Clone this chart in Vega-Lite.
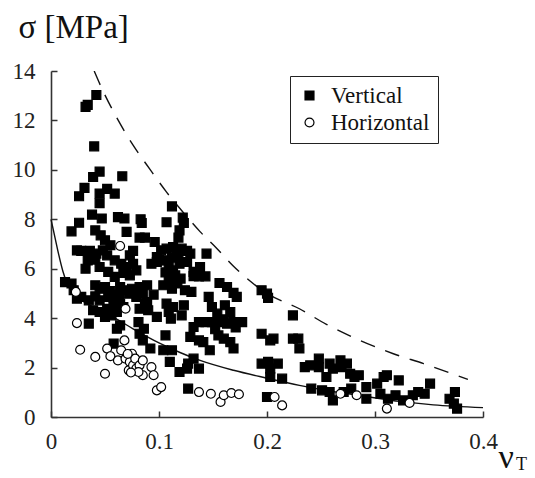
{
  "$schema": "https://vega.github.io/schema/vega-lite/v6.json",
  "width": 432,
  "height": 346,
  "autosize": {"type": "none"},
  "padding": {"left": 51, "top": 71, "right": 52, "bottom": 61},
  "background": "white",
  "config": {"view": {"stroke": null}, "font": "Liberation Serif"},
  "title": {"text": "T", "orient": "top", "anchor": "start", "frame": "group", "offset": 0, "dx": 465, "dy": 477, "baseline": "alphabetic", "fontSize": 18, "fontWeight": "normal", "color": "#111", "font": "Liberation Serif"},
  "datasets": {
    "solid": [
      {"x": 0, "y": 8.0}, {"x": 0.004, "y": 7.2}, {"x": 0.007, "y": 6.6}, {"x": 0.011, "y": 5.9}, {"x": 0.015, "y": 5.4}, {"x": 0.02, "y": 5.05}, {"x": 0.03, "y": 4.68}, {"x": 0.045, "y": 4.32}, {"x": 0.06, "y": 3.98}, {"x": 0.076, "y": 3.57}, {"x": 0.1, "y": 3.0}, {"x": 0.12, "y": 2.6}, {"x": 0.138, "y": 2.29}, {"x": 0.169, "y": 1.89}, {"x": 0.2, "y": 1.57}, {"x": 0.23, "y": 1.28}, {"x": 0.261, "y": 1.03}, {"x": 0.292, "y": 0.83}, {"x": 0.323, "y": 0.63}, {"x": 0.354, "y": 0.49}, {"x": 0.4, "y": 0.38}
    ],
    "dashed": [
      {"x": 0.040, "y": 14.0}, {"x": 0.047, "y": 13.3}, {"x": 0.061, "y": 12.1}, {"x": 0.076, "y": 11.0}, {"x": 0.092, "y": 10.0}, {"x": 0.107, "y": 9.1}, {"x": 0.123, "y": 8.25}, {"x": 0.138, "y": 7.5}, {"x": 0.154, "y": 6.8}, {"x": 0.169, "y": 6.1}, {"x": 0.2, "y": 5.0}, {"x": 0.230, "y": 4.38}, {"x": 0.255, "y": 3.75}, {"x": 0.286, "y": 3.10}, {"x": 0.317, "y": 2.56}, {"x": 0.345, "y": 2.16}, {"x": 0.386, "y": 1.52}
    ],
    "points": [
      {"x": 0.034, "y": 12.63, "s": "Vertical"}, {"x": 0.032, "y": 12.55, "s": "Vertical"}, {"x": 0.042, "y": 13.03, "s": "Vertical"}, {"x": 0.040, "y": 10.95, "s": "Vertical"}, {"x": 0.045, "y": 9.93, "s": "Vertical"}, {"x": 0.039, "y": 9.71, "s": "Vertical"}, {"x": 0.066, "y": 9.74, "s": "Vertical"}, {"x": 0.031, "y": 9.27, "s": "Vertical"}, {"x": 0.052, "y": 9.23, "s": "Vertical"}, {"x": 0.026, "y": 8.93, "s": "Vertical"}, {"x": 0.045, "y": 9.04, "s": "Vertical"}, {"x": 0.059, "y": 9.04, "s": "Vertical"}, {"x": 0.045, "y": 8.65, "s": "Vertical"}, {"x": 0.112, "y": 8.52, "s": "Vertical"}, {"x": 0.038, "y": 8.19, "s": "Vertical"}, {"x": 0.026, "y": 7.86, "s": "Vertical"}, {"x": 0.019, "y": 7.51, "s": "Vertical"}, {"x": 0.047, "y": 8.03, "s": "Vertical"}, {"x": 0.062, "y": 8.09, "s": "Vertical"}, {"x": 0.068, "y": 8.03, "s": "Vertical"}, {"x": 0.083, "y": 8.0, "s": "Vertical"}, {"x": 0.084, "y": 7.85, "s": "Vertical"}, {"x": 0.107, "y": 7.88, "s": "Vertical"}, {"x": 0.122, "y": 8.07, "s": "Vertical"}, {"x": 0.123, "y": 7.85, "s": "Vertical"}, {"x": 0.119, "y": 7.55, "s": "Vertical"}, {"x": 0.118, "y": 7.26, "s": "Vertical"}, {"x": 0.041, "y": 7.55, "s": "Vertical"}, {"x": 0.070, "y": 7.49, "s": "Vertical"}, {"x": 0.046, "y": 7.35, "s": "Vertical"}, {"x": 0.050, "y": 7.15, "s": "Vertical"}, {"x": 0.055, "y": 6.95, "s": "Vertical"}, {"x": 0.082, "y": 7.26, "s": "Vertical"}, {"x": 0.087, "y": 7.26, "s": "Vertical"}, {"x": 0.096, "y": 7.08, "s": "Vertical"}, {"x": 0.024, "y": 6.74, "s": "Vertical"}, {"x": 0.028, "y": 6.72, "s": "Vertical"}, {"x": 0.036, "y": 6.72, "s": "Vertical"}, {"x": 0.042, "y": 6.61, "s": "Vertical"}, {"x": 0.048, "y": 6.74, "s": "Vertical"}, {"x": 0.052, "y": 6.54, "s": "Vertical"}, {"x": 0.076, "y": 6.72, "s": "Vertical"}, {"x": 0.073, "y": 6.54, "s": "Vertical"}, {"x": 0.102, "y": 6.74, "s": "Vertical"}, {"x": 0.107, "y": 6.81, "s": "Vertical"}, {"x": 0.113, "y": 6.88, "s": "Vertical"}, {"x": 0.116, "y": 6.77, "s": "Vertical"}, {"x": 0.121, "y": 6.81, "s": "Vertical"}, {"x": 0.126, "y": 6.72, "s": "Vertical"}, {"x": 0.129, "y": 6.61, "s": "Vertical"}, {"x": 0.098, "y": 6.47, "s": "Vertical"}, {"x": 0.144, "y": 6.61, "s": "Vertical"}, {"x": 0.034, "y": 6.34, "s": "Vertical"}, {"x": 0.041, "y": 6.37, "s": "Vertical"}, {"x": 0.045, "y": 6.07, "s": "Vertical"}, {"x": 0.032, "y": 6.0, "s": "Vertical"}, {"x": 0.059, "y": 6.34, "s": "Vertical"}, {"x": 0.065, "y": 6.20, "s": "Vertical"}, {"x": 0.070, "y": 6.07, "s": "Vertical"}, {"x": 0.076, "y": 6.20, "s": "Vertical"}, {"x": 0.079, "y": 5.93, "s": "Vertical"}, {"x": 0.093, "y": 6.20, "s": "Vertical"}, {"x": 0.098, "y": 6.27, "s": "Vertical"}, {"x": 0.104, "y": 6.34, "s": "Vertical"}, {"x": 0.109, "y": 6.07, "s": "Vertical"}, {"x": 0.113, "y": 5.93, "s": "Vertical"}, {"x": 0.119, "y": 6.20, "s": "Vertical"}, {"x": 0.126, "y": 6.27, "s": "Vertical"}, {"x": 0.132, "y": 5.87, "s": "Vertical"}, {"x": 0.138, "y": 6.07, "s": "Vertical"}, {"x": 0.143, "y": 5.69, "s": "Vertical"}, {"x": 0.137, "y": 5.69, "s": "Vertical"}, {"x": 0.053, "y": 5.87, "s": "Vertical"}, {"x": 0.059, "y": 5.67, "s": "Vertical"}, {"x": 0.067, "y": 5.83, "s": "Vertical"}, {"x": 0.073, "y": 5.73, "s": "Vertical"}, {"x": 0.013, "y": 5.46, "s": "Vertical"}, {"x": 0.019, "y": 5.40, "s": "Vertical"}, {"x": 0.021, "y": 5.13, "s": "Vertical"}, {"x": 0.041, "y": 5.33, "s": "Vertical"}, {"x": 0.045, "y": 5.19, "s": "Vertical"}, {"x": 0.050, "y": 5.26, "s": "Vertical"}, {"x": 0.055, "y": 5.10, "s": "Vertical"}, {"x": 0.064, "y": 5.26, "s": "Vertical"}, {"x": 0.069, "y": 5.13, "s": "Vertical"}, {"x": 0.075, "y": 5.19, "s": "Vertical"}, {"x": 0.082, "y": 5.26, "s": "Vertical"}, {"x": 0.089, "y": 5.33, "s": "Vertical"}, {"x": 0.104, "y": 5.33, "s": "Vertical"}, {"x": 0.109, "y": 5.53, "s": "Vertical"}, {"x": 0.112, "y": 5.19, "s": "Vertical"}, {"x": 0.115, "y": 5.73, "s": "Vertical"}, {"x": 0.120, "y": 5.60, "s": "Vertical"}, {"x": 0.124, "y": 5.13, "s": "Vertical"}, {"x": 0.130, "y": 5.06, "s": "Vertical"}, {"x": 0.156, "y": 5.42, "s": "Vertical"}, {"x": 0.163, "y": 5.26, "s": "Vertical"}, {"x": 0.169, "y": 5.02, "s": "Vertical"}, {"x": 0.172, "y": 4.86, "s": "Vertical"}, {"x": 0.195, "y": 5.13, "s": "Vertical"}, {"x": 0.200, "y": 4.99, "s": "Vertical"}, {"x": 0.201, "y": 4.82, "s": "Vertical"}, {"x": 0.024, "y": 4.79, "s": "Vertical"}, {"x": 0.028, "y": 4.86, "s": "Vertical"}, {"x": 0.035, "y": 4.72, "s": "Vertical"}, {"x": 0.041, "y": 4.88, "s": "Vertical"}, {"x": 0.045, "y": 4.72, "s": "Vertical"}, {"x": 0.053, "y": 4.86, "s": "Vertical"}, {"x": 0.058, "y": 4.79, "s": "Vertical"}, {"x": 0.062, "y": 4.72, "s": "Vertical"}, {"x": 0.072, "y": 4.99, "s": "Vertical"}, {"x": 0.079, "y": 4.86, "s": "Vertical"}, {"x": 0.085, "y": 4.99, "s": "Vertical"}, {"x": 0.089, "y": 4.65, "s": "Vertical"}, {"x": 0.039, "y": 4.32, "s": "Vertical"}, {"x": 0.045, "y": 4.25, "s": "Vertical"}, {"x": 0.052, "y": 4.38, "s": "Vertical"}, {"x": 0.058, "y": 4.45, "s": "Vertical"}, {"x": 0.064, "y": 4.59, "s": "Vertical"}, {"x": 0.050, "y": 4.05, "s": "Vertical"}, {"x": 0.056, "y": 4.11, "s": "Vertical"}, {"x": 0.061, "y": 4.25, "s": "Vertical"}, {"x": 0.082, "y": 4.38, "s": "Vertical"}, {"x": 0.090, "y": 4.32, "s": "Vertical"}, {"x": 0.098, "y": 4.05, "s": "Vertical"}, {"x": 0.107, "y": 4.59, "s": "Vertical"}, {"x": 0.109, "y": 4.25, "s": "Vertical"}, {"x": 0.113, "y": 4.45, "s": "Vertical"}, {"x": 0.123, "y": 4.52, "s": "Vertical"}, {"x": 0.121, "y": 4.11, "s": "Vertical"}, {"x": 0.146, "y": 4.86, "s": "Vertical"}, {"x": 0.149, "y": 4.45, "s": "Vertical"}, {"x": 0.154, "y": 4.18, "s": "Vertical"}, {"x": 0.161, "y": 4.52, "s": "Vertical"}, {"x": 0.166, "y": 4.25, "s": "Vertical"}, {"x": 0.224, "y": 4.11, "s": "Vertical"}, {"x": 0.035, "y": 3.78, "s": "Vertical"}, {"x": 0.081, "y": 3.84, "s": "Vertical"}, {"x": 0.086, "y": 3.57, "s": "Vertical"}, {"x": 0.082, "y": 3.37, "s": "Vertical"}, {"x": 0.061, "y": 3.57, "s": "Vertical"}, {"x": 0.064, "y": 3.71, "s": "Vertical"}, {"x": 0.111, "y": 3.98, "s": "Vertical"}, {"x": 0.132, "y": 3.64, "s": "Vertical"}, {"x": 0.137, "y": 3.84, "s": "Vertical"}, {"x": 0.143, "y": 3.84, "s": "Vertical"}, {"x": 0.149, "y": 3.84, "s": "Vertical"}, {"x": 0.155, "y": 3.84, "s": "Vertical"}, {"x": 0.163, "y": 3.78, "s": "Vertical"}, {"x": 0.169, "y": 3.84, "s": "Vertical"}, {"x": 0.177, "y": 3.84, "s": "Vertical"}, {"x": 0.129, "y": 3.24, "s": "Vertical"}, {"x": 0.137, "y": 3.10, "s": "Vertical"}, {"x": 0.141, "y": 3.03, "s": "Vertical"}, {"x": 0.155, "y": 3.30, "s": "Vertical"}, {"x": 0.160, "y": 3.17, "s": "Vertical"}, {"x": 0.166, "y": 3.03, "s": "Vertical"}, {"x": 0.106, "y": 3.30, "s": "Vertical"}, {"x": 0.195, "y": 3.37, "s": "Vertical"}, {"x": 0.203, "y": 3.10, "s": "Vertical"}, {"x": 0.206, "y": 3.17, "s": "Vertical"}, {"x": 0.224, "y": 3.17, "s": "Vertical"}, {"x": 0.229, "y": 3.17, "s": "Vertical"}, {"x": 0.058, "y": 2.97, "s": "Vertical"}, {"x": 0.092, "y": 2.77, "s": "Vertical"}, {"x": 0.104, "y": 2.70, "s": "Vertical"}, {"x": 0.112, "y": 2.70, "s": "Vertical"}, {"x": 0.147, "y": 2.70, "s": "Vertical"}, {"x": 0.169, "y": 2.77, "s": "Vertical"}, {"x": 0.230, "y": 2.77, "s": "Vertical"}, {"x": 0.132, "y": 2.36, "s": "Vertical"}, {"x": 0.127, "y": 2.16, "s": "Vertical"}, {"x": 0.110, "y": 2.23, "s": "Vertical"}, {"x": 0.137, "y": 1.96, "s": "Vertical"}, {"x": 0.119, "y": 1.82, "s": "Vertical"}, {"x": 0.126, "y": 1.96, "s": "Vertical"}, {"x": 0.195, "y": 2.16, "s": "Vertical"}, {"x": 0.201, "y": 2.23, "s": "Vertical"}, {"x": 0.203, "y": 1.96, "s": "Vertical"}, {"x": 0.203, "y": 1.62, "s": "Vertical"}, {"x": 0.214, "y": 1.55, "s": "Vertical"}, {"x": 0.210, "y": 2.16, "s": "Vertical"}, {"x": 0.235, "y": 2.02, "s": "Vertical"}, {"x": 0.240, "y": 2.09, "s": "Vertical"}, {"x": 0.248, "y": 2.36, "s": "Vertical"}, {"x": 0.248, "y": 2.02, "s": "Vertical"}, {"x": 0.255, "y": 1.62, "s": "Vertical"}, {"x": 0.258, "y": 2.16, "s": "Vertical"}, {"x": 0.268, "y": 2.29, "s": "Vertical"}, {"x": 0.274, "y": 2.16, "s": "Vertical"}, {"x": 0.261, "y": 1.96, "s": "Vertical"}, {"x": 0.269, "y": 2.02, "s": "Vertical"}, {"x": 0.277, "y": 1.75, "s": "Vertical"}, {"x": 0.281, "y": 1.62, "s": "Vertical"}, {"x": 0.285, "y": 1.69, "s": "Vertical"}, {"x": 0.241, "y": 1.15, "s": "Vertical"}, {"x": 0.251, "y": 1.08, "s": "Vertical"}, {"x": 0.258, "y": 1.01, "s": "Vertical"}, {"x": 0.261, "y": 0.67, "s": "Vertical"}, {"x": 0.271, "y": 1.01, "s": "Vertical"}, {"x": 0.278, "y": 1.15, "s": "Vertical"}, {"x": 0.292, "y": 1.21, "s": "Vertical"}, {"x": 0.292, "y": 0.74, "s": "Vertical"}, {"x": 0.302, "y": 1.35, "s": "Vertical"}, {"x": 0.308, "y": 1.62, "s": "Vertical"}, {"x": 0.311, "y": 1.69, "s": "Vertical"}, {"x": 0.305, "y": 0.94, "s": "Vertical"}, {"x": 0.312, "y": 0.74, "s": "Vertical"}, {"x": 0.322, "y": 1.48, "s": "Vertical"}, {"x": 0.319, "y": 0.88, "s": "Vertical"}, {"x": 0.326, "y": 0.67, "s": "Vertical"}, {"x": 0.335, "y": 0.88, "s": "Vertical"}, {"x": 0.340, "y": 1.01, "s": "Vertical"}, {"x": 0.346, "y": 0.94, "s": "Vertical"}, {"x": 0.351, "y": 1.35, "s": "Vertical"}, {"x": 0.369, "y": 0.74, "s": "Vertical"}, {"x": 0.374, "y": 1.01, "s": "Vertical"}, {"x": 0.373, "y": 0.54, "s": "Vertical"}, {"x": 0.376, "y": 0.34, "s": "Vertical"}, {"x": 0.127, "y": 1.15, "s": "Vertical"}, {"x": 0.200, "y": 0.81, "s": "Vertical"}, {"x": 0.100, "y": 6.35, "s": "Vertical"}, {"x": 0.118, "y": 6.50, "s": "Vertical"}, {"x": 0.112, "y": 6.45, "s": "Vertical"}, {"x": 0.106, "y": 5.85, "s": "Vertical"}, {"x": 0.117, "y": 5.40, "s": "Vertical"}, {"x": 0.063, "y": 4.95, "s": "Vertical"}, {"x": 0.067, "y": 4.45, "s": "Vertical"}, {"x": 0.160, "y": 3.95, "s": "Vertical"}, {"x": 0.152, "y": 3.55, "s": "Vertical"}, {"x": 0.171, "y": 3.62, "s": "Vertical"}, {"x": 0.095, "y": 4.95, "s": "Vertical"}, {"x": 0.087, "y": 4.60, "s": "Vertical"}, {"x": 0.132, "y": 5.70, "s": "Vertical"}, {"x": 0.085, "y": 3.10, "s": "Vertical"},
      {"x": 0.023, "y": 5.06, "s": "Horizontal"}, {"x": 0.024, "y": 3.80, "s": "Horizontal"}, {"x": 0.027, "y": 2.72, "s": "Horizontal"}, {"x": 0.041, "y": 2.43, "s": "Horizontal"}, {"x": 0.050, "y": 1.75, "s": "Horizontal"}, {"x": 0.052, "y": 2.77, "s": "Horizontal"}, {"x": 0.055, "y": 2.46, "s": "Horizontal"}, {"x": 0.064, "y": 6.92, "s": "Horizontal"}, {"x": 0.069, "y": 4.38, "s": "Horizontal"}, {"x": 0.065, "y": 2.70, "s": "Horizontal"}, {"x": 0.068, "y": 3.10, "s": "Horizontal"}, {"x": 0.062, "y": 2.29, "s": "Horizontal"}, {"x": 0.069, "y": 2.36, "s": "Horizontal"}, {"x": 0.073, "y": 2.23, "s": "Horizontal"}, {"x": 0.072, "y": 1.89, "s": "Horizontal"}, {"x": 0.076, "y": 2.09, "s": "Horizontal"}, {"x": 0.079, "y": 1.96, "s": "Horizontal"}, {"x": 0.075, "y": 2.56, "s": "Horizontal"}, {"x": 0.078, "y": 2.36, "s": "Horizontal"}, {"x": 0.082, "y": 2.09, "s": "Horizontal"}, {"x": 0.085, "y": 2.29, "s": "Horizontal"}, {"x": 0.085, "y": 1.69, "s": "Horizontal"}, {"x": 0.081, "y": 1.82, "s": "Horizontal"}, {"x": 0.093, "y": 2.02, "s": "Horizontal"}, {"x": 0.095, "y": 1.69, "s": "Horizontal"}, {"x": 0.098, "y": 1.08, "s": "Horizontal"}, {"x": 0.102, "y": 1.21, "s": "Horizontal"}, {"x": 0.137, "y": 1.01, "s": "Horizontal"}, {"x": 0.148, "y": 0.94, "s": "Horizontal"}, {"x": 0.157, "y": 0.61, "s": "Horizontal"}, {"x": 0.160, "y": 0.88, "s": "Horizontal"}, {"x": 0.167, "y": 0.97, "s": "Horizontal"}, {"x": 0.174, "y": 0.92, "s": "Horizontal"}, {"x": 0.207, "y": 0.81, "s": "Horizontal"}, {"x": 0.214, "y": 0.47, "s": "Horizontal"}, {"x": 0.268, "y": 0.94, "s": "Horizontal"}, {"x": 0.283, "y": 0.88, "s": "Horizontal"}, {"x": 0.311, "y": 0.34, "s": "Horizontal"}, {"x": 0.332, "y": 0.57, "s": "Horizontal"}, {"x": 0.071, "y": 2.55, "s": "Horizontal"}, {"x": 0.074, "y": 1.80, "s": "Horizontal"}
    ]
  },
  "encoding": {
    "x": {"field": "x", "type": "quantitative", "scale": {"domain": [0, 0.4], "nice": false, "zero": false},
      "axis": {"values": [0, 0.1, 0.2, 0.3, 0.4], "format": "~g", "grid": false, "title": "ν", "titleFont": "Liberation Serif", "titleFontSize": 34, "titleFontWeight": "normal", "titleColor": "#111", "titleX": 447, "titleY": 50, "titleAlign": "left", "titleBaseline": "alphabetic", "labelFont": "Liberation Serif", "labelFontSize": 23, "labelColor": "#222", "labelFlush": false, "labelPadding": 19, "domainColor": "#333", "domainWidth": 1.6, "tickColor": "#333", "tickWidth": 1.5, "tickSize": -6}},
    "y": {"field": "y", "type": "quantitative", "scale": {"domain": [0, 14], "nice": false},
      "axis": {"values": [0, 2, 4, 6, 8, 10, 12, 14], "format": "d", "grid": false, "title": "σ [MPa]", "titleAngle": 0, "titleFont": "Liberation Serif", "titleFontSize": 33, "titleFontWeight": "normal", "titleColor": "#111", "titleX": -33, "titleY": -34, "titleAlign": "left", "titleBaseline": "alphabetic", "labelFont": "Liberation Serif", "labelFontSize": 23, "labelColor": "#222", "labelPadding": 22, "domainColor": "#333", "domainWidth": 1.6, "tickColor": "#333", "tickWidth": 1.5, "tickSize": -6}}
  },
  "layer": [
    {"data": {"name": "solid"}, "mark": {"type": "line", "color": "#111", "strokeWidth": 1.4, "interpolate": "monotone"}},
    {"data": {"name": "dashed"}, "mark": {"type": "line", "color": "#111", "strokeWidth": 1.4, "strokeDash": [15, 11], "interpolate": "monotone", "clip": true}},
    {"data": {"name": "points"}, "mark": {"type": "point", "filled": true, "strokeWidth": 1.2, "size": 80, "opacity": 1},
      "encoding": {
        "shape": {"field": "s", "type": "nominal", "scale": {"domain": ["Vertical", "Horizontal"], "range": ["square", "circle"]},
          "legend": {"orient": "none", "legendX": 239, "legendY": 5, "title": null, "strokeColor": "#222", "fillColor": "white", "padding": 8, "labelFont": "Liberation Serif", "labelFontSize": 23, "labelColor": "#111", "labelOffset": 10, "rowPadding": 3, "symbolSize": 80, "symbolStrokeWidth": 1.2}},
        "fill": {"field": "s", "type": "nominal", "scale": {"domain": ["Vertical", "Horizontal"], "range": ["black", "white"]},
          "legend": {"orient": "none", "legendX": 239, "legendY": 5, "title": null, "strokeColor": "#222", "fillColor": "white", "padding": 8, "labelFont": "Liberation Serif", "labelFontSize": 23, "labelColor": "#111", "labelOffset": 10, "rowPadding": 3, "symbolSize": 80, "symbolStrokeWidth": 1.2}},
        "stroke": {"field": "s", "type": "nominal", "scale": {"domain": ["Vertical", "Horizontal"], "range": ["black", "black"]},
          "legend": {"orient": "none", "legendX": 239, "legendY": 5, "title": null, "strokeColor": "#222", "fillColor": "white", "padding": 8, "labelFont": "Liberation Serif", "labelFontSize": 23, "labelColor": "#111", "labelOffset": 10, "rowPadding": 3, "symbolSize": 80, "symbolStrokeWidth": 1.2}}
      }}
  ]
}
